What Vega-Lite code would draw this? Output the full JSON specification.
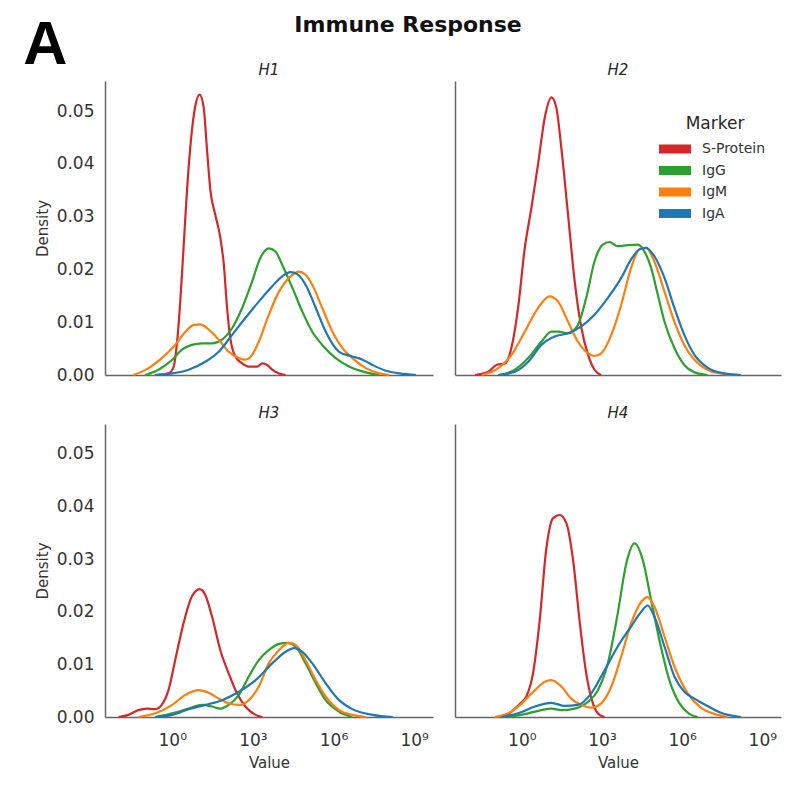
{
  "$schema": "https://vega.github.io/schema/vega-lite/v6.json",
  "background": "white",
  "padding": {"left": 23, "top": 14, "right": 15, "bottom": 10},
  "title": {"text": "A", "anchor": "start", "frame": "bounds", "font": "Liberation Sans", "fontSize": 61, "fontWeight": "bold", "color": "#000000", "offset": -63, "dx": -12},
  "data": {"values": [
    {"panel":"H1","marker":"S-Protein","x":-0.63,"density":0},
    {"panel":"H1","marker":"S-Protein","x":-0.14,"density":0.0003},
    {"panel":"H1","marker":"S-Protein","x":0.05,"density":0.0015},
    {"panel":"H1","marker":"S-Protein","x":0.17,"density":0.0057},
    {"panel":"H1","marker":"S-Protein","x":0.30,"density":0.014},
    {"panel":"H1","marker":"S-Protein","x":0.42,"density":0.024},
    {"panel":"H1","marker":"S-Protein","x":0.55,"density":0.035},
    {"panel":"H1","marker":"S-Protein","x":0.67,"density":0.043},
    {"panel":"H1","marker":"S-Protein","x":0.86,"density":0.051},
    {"panel":"H1","marker":"S-Protein","x":1.02,"density":0.0531},
    {"panel":"H1","marker":"S-Protein","x":1.17,"density":0.0507},
    {"panel":"H1","marker":"S-Protein","x":1.29,"density":0.043},
    {"panel":"H1","marker":"S-Protein","x":1.42,"density":0.035},
    {"panel":"H1","marker":"S-Protein","x":1.60,"density":0.0304},
    {"panel":"H1","marker":"S-Protein","x":1.79,"density":0.026},
    {"panel":"H1","marker":"S-Protein","x":1.92,"density":0.0209},
    {"panel":"H1","marker":"S-Protein","x":2.04,"density":0.0127},
    {"panel":"H1","marker":"S-Protein","x":2.16,"density":0.007},
    {"panel":"H1","marker":"S-Protein","x":2.35,"density":0.0035},
    {"panel":"H1","marker":"S-Protein","x":2.60,"density":0.0022},
    {"panel":"H1","marker":"S-Protein","x":2.85,"density":0.0016},
    {"panel":"H1","marker":"S-Protein","x":3.16,"density":0.0016},
    {"panel":"H1","marker":"S-Protein","x":3.35,"density":0.0022},
    {"panel":"H1","marker":"S-Protein","x":3.53,"density":0.0019},
    {"panel":"H1","marker":"S-Protein","x":3.72,"density":0.001},
    {"panel":"H1","marker":"S-Protein","x":3.97,"density":0.0003},
    {"panel":"H1","marker":"S-Protein","x":4.22,"density":0},
    {"panel":"H1","marker":"IgG","x":-1.0,"density":0},
    {"panel":"H1","marker":"IgG","x":-0.51,"density":0.001},
    {"panel":"H1","marker":"IgG","x":0,"density":0.0029},
    {"panel":"H1","marker":"IgG","x":0.36,"density":0.0048},
    {"panel":"H1","marker":"IgG","x":0.73,"density":0.0057},
    {"panel":"H1","marker":"IgG","x":1.11,"density":0.006},
    {"panel":"H1","marker":"IgG","x":1.48,"density":0.006},
    {"panel":"H1","marker":"IgG","x":1.85,"density":0.0067},
    {"panel":"H1","marker":"IgG","x":2.23,"density":0.0089},
    {"panel":"H1","marker":"IgG","x":2.60,"density":0.0127},
    {"panel":"H1","marker":"IgG","x":2.97,"density":0.0177},
    {"panel":"H1","marker":"IgG","x":3.28,"density":0.0222},
    {"panel":"H1","marker":"IgG","x":3.59,"density":0.024},
    {"panel":"H1","marker":"IgG","x":3.84,"density":0.0234},
    {"panel":"H1","marker":"IgG","x":4.09,"density":0.0209},
    {"panel":"H1","marker":"IgG","x":4.47,"density":0.0165},
    {"panel":"H1","marker":"IgG","x":4.84,"density":0.012},
    {"panel":"H1","marker":"IgG","x":5.21,"density":0.0082},
    {"panel":"H1","marker":"IgG","x":5.58,"density":0.0057},
    {"panel":"H1","marker":"IgG","x":6.08,"density":0.0032},
    {"panel":"H1","marker":"IgG","x":6.58,"density":0.0016},
    {"panel":"H1","marker":"IgG","x":7.20,"density":0.0005},
    {"panel":"H1","marker":"IgG","x":7.70,"density":0},
    {"panel":"H1","marker":"IgM","x":-1.44,"density":0},
    {"panel":"H1","marker":"IgM","x":-0.88,"density":0.0013},
    {"panel":"H1","marker":"IgM","x":-0.39,"density":0.0032},
    {"panel":"H1","marker":"IgM","x":0.11,"density":0.0057},
    {"panel":"H1","marker":"IgM","x":0.49,"density":0.0082},
    {"panel":"H1","marker":"IgM","x":0.80,"density":0.0095},
    {"panel":"H1","marker":"IgM","x":1.04,"density":0.0096},
    {"panel":"H1","marker":"IgM","x":1.36,"density":0.0086},
    {"panel":"H1","marker":"IgM","x":1.73,"density":0.0067},
    {"panel":"H1","marker":"IgM","x":2.10,"density":0.0044},
    {"panel":"H1","marker":"IgM","x":2.48,"density":0.0032},
    {"panel":"H1","marker":"IgM","x":2.72,"density":0.0029},
    {"panel":"H1","marker":"IgM","x":2.97,"density":0.0038},
    {"panel":"H1","marker":"IgM","x":3.22,"density":0.0063},
    {"panel":"H1","marker":"IgM","x":3.59,"density":0.0114},
    {"panel":"H1","marker":"IgM","x":3.97,"density":0.0158},
    {"panel":"H1","marker":"IgM","x":4.34,"density":0.0184},
    {"panel":"H1","marker":"IgM","x":4.71,"density":0.0196},
    {"panel":"H1","marker":"IgM","x":4.96,"density":0.019},
    {"panel":"H1","marker":"IgM","x":5.21,"density":0.0171},
    {"panel":"H1","marker":"IgM","x":5.58,"density":0.0127},
    {"panel":"H1","marker":"IgM","x":5.96,"density":0.0082},
    {"panel":"H1","marker":"IgM","x":6.33,"density":0.0051},
    {"panel":"H1","marker":"IgM","x":6.70,"density":0.0032},
    {"panel":"H1","marker":"IgM","x":7.20,"density":0.0013},
    {"panel":"H1","marker":"IgM","x":7.70,"density":0.0003},
    {"panel":"H1","marker":"IgM","x":8.07,"density":0},
    {"panel":"H1","marker":"IgA","x":-0.63,"density":0},
    {"panel":"H1","marker":"IgA","x":0,"density":0.0003},
    {"panel":"H1","marker":"IgA","x":0.61,"density":0.001},
    {"panel":"H1","marker":"IgA","x":1.23,"density":0.0025},
    {"panel":"H1","marker":"IgA","x":1.73,"density":0.0044},
    {"panel":"H1","marker":"IgA","x":2.23,"density":0.0076},
    {"panel":"H1","marker":"IgA","x":2.72,"density":0.0108},
    {"panel":"H1","marker":"IgA","x":3.22,"density":0.0139},
    {"panel":"H1","marker":"IgA","x":3.72,"density":0.0168},
    {"panel":"H1","marker":"IgA","x":4.09,"density":0.0187},
    {"panel":"H1","marker":"IgA","x":4.40,"density":0.0195},
    {"panel":"H1","marker":"IgA","x":4.65,"density":0.0191},
    {"panel":"H1","marker":"IgA","x":4.96,"density":0.0171},
    {"panel":"H1","marker":"IgA","x":5.34,"density":0.0127},
    {"panel":"H1","marker":"IgA","x":5.71,"density":0.0082},
    {"panel":"H1","marker":"IgA","x":6.21,"density":0.0044},
    {"panel":"H1","marker":"IgA","x":6.70,"density":0.0035},
    {"panel":"H1","marker":"IgA","x":7.08,"density":0.0029},
    {"panel":"H1","marker":"IgA","x":7.45,"density":0.0019},
    {"panel":"H1","marker":"IgA","x":7.95,"density":0.0008},
    {"panel":"H1","marker":"IgA","x":8.45,"density":0.0003},
    {"panel":"H1","marker":"IgA","x":9.07,"density":0},
    {"panel":"H2","marker":"S-Protein","x":-1.75,"density":0},
    {"panel":"H2","marker":"S-Protein","x":-1.26,"density":0.0006},
    {"panel":"H2","marker":"S-Protein","x":-0.95,"density":0.0019},
    {"panel":"H2","marker":"S-Protein","x":-0.63,"density":0.0022},
    {"panel":"H2","marker":"S-Protein","x":-0.39,"density":0.0051},
    {"panel":"H2","marker":"S-Protein","x":-0.14,"density":0.0127},
    {"panel":"H2","marker":"S-Protein","x":0.11,"density":0.024},
    {"panel":"H2","marker":"S-Protein","x":0.36,"density":0.0317},
    {"panel":"H2","marker":"S-Protein","x":0.61,"density":0.040},
    {"panel":"H2","marker":"S-Protein","x":0.86,"density":0.0488},
    {"panel":"H2","marker":"S-Protein","x":1.11,"density":0.0526},
    {"panel":"H2","marker":"S-Protein","x":1.29,"density":0.0507},
    {"panel":"H2","marker":"S-Protein","x":1.48,"density":0.043},
    {"panel":"H2","marker":"S-Protein","x":1.73,"density":0.0304},
    {"panel":"H2","marker":"S-Protein","x":1.98,"density":0.0177},
    {"panel":"H2","marker":"S-Protein","x":2.23,"density":0.0089},
    {"panel":"H2","marker":"S-Protein","x":2.48,"density":0.0038},
    {"panel":"H2","marker":"S-Protein","x":2.72,"density":0.001},
    {"panel":"H2","marker":"S-Protein","x":2.97,"density":0},
    {"panel":"H2","marker":"IgG","x":-0.88,"density":0},
    {"panel":"H2","marker":"IgG","x":-0.26,"density":0.001},
    {"panel":"H2","marker":"IgG","x":0.24,"density":0.0032},
    {"panel":"H2","marker":"IgG","x":0.73,"density":0.0063},
    {"panel":"H2","marker":"IgG","x":1.11,"density":0.0082},
    {"panel":"H2","marker":"IgG","x":1.36,"density":0.0082},
    {"panel":"H2","marker":"IgG","x":1.73,"density":0.0079},
    {"panel":"H2","marker":"IgG","x":2.10,"density":0.0095},
    {"panel":"H2","marker":"IgG","x":2.41,"density":0.0146},
    {"panel":"H2","marker":"IgG","x":2.72,"density":0.0215},
    {"panel":"H2","marker":"IgG","x":3.03,"density":0.0247},
    {"panel":"H2","marker":"IgG","x":3.28,"density":0.0252},
    {"panel":"H2","marker":"IgG","x":3.59,"density":0.0244},
    {"panel":"H2","marker":"IgG","x":3.97,"density":0.0246},
    {"panel":"H2","marker":"IgG","x":4.34,"density":0.0247},
    {"panel":"H2","marker":"IgG","x":4.59,"density":0.0234},
    {"panel":"H2","marker":"IgG","x":4.84,"density":0.0203},
    {"panel":"H2","marker":"IgG","x":5.09,"density":0.0152},
    {"panel":"H2","marker":"IgG","x":5.34,"density":0.0101},
    {"panel":"H2","marker":"IgG","x":5.71,"density":0.0051},
    {"panel":"H2","marker":"IgG","x":6.08,"density":0.0019},
    {"panel":"H2","marker":"IgG","x":6.46,"density":0.0005},
    {"panel":"H2","marker":"IgG","x":6.95,"density":0},
    {"panel":"H2","marker":"IgM","x":-1.5,"density":0},
    {"panel":"H2","marker":"IgM","x":-0.88,"density":0.0013},
    {"panel":"H2","marker":"IgM","x":-0.39,"density":0.0038},
    {"panel":"H2","marker":"IgM","x":0.11,"density":0.0082},
    {"panel":"H2","marker":"IgM","x":0.61,"density":0.0127},
    {"panel":"H2","marker":"IgM","x":1.04,"density":0.0149},
    {"panel":"H2","marker":"IgM","x":1.36,"density":0.0139},
    {"panel":"H2","marker":"IgM","x":1.73,"density":0.0101},
    {"panel":"H2","marker":"IgM","x":2.10,"density":0.0063},
    {"panel":"H2","marker":"IgM","x":2.48,"density":0.0041},
    {"panel":"H2","marker":"IgM","x":2.72,"density":0.0036},
    {"panel":"H2","marker":"IgM","x":2.97,"density":0.0041},
    {"panel":"H2","marker":"IgM","x":3.35,"density":0.0076},
    {"panel":"H2","marker":"IgM","x":3.72,"density":0.0133},
    {"panel":"H2","marker":"IgM","x":4.09,"density":0.0203},
    {"panel":"H2","marker":"IgM","x":4.40,"density":0.0238},
    {"panel":"H2","marker":"IgM","x":4.65,"density":0.0241},
    {"panel":"H2","marker":"IgM","x":4.96,"density":0.0215},
    {"panel":"H2","marker":"IgM","x":5.34,"density":0.0158},
    {"panel":"H2","marker":"IgM","x":5.71,"density":0.0101},
    {"panel":"H2","marker":"IgM","x":6.08,"density":0.0057},
    {"panel":"H2","marker":"IgM","x":6.46,"density":0.0029},
    {"panel":"H2","marker":"IgM","x":6.95,"density":0.001},
    {"panel":"H2","marker":"IgM","x":7.45,"density":0.0003},
    {"panel":"H2","marker":"IgM","x":8.07,"density":0},
    {"panel":"H2","marker":"IgA","x":-0.88,"density":0},
    {"panel":"H2","marker":"IgA","x":-0.26,"density":0.0006},
    {"panel":"H2","marker":"IgA","x":0.24,"density":0.0025},
    {"panel":"H2","marker":"IgA","x":0.73,"density":0.0057},
    {"panel":"H2","marker":"IgA","x":1.23,"density":0.0073},
    {"panel":"H2","marker":"IgA","x":1.73,"density":0.0079},
    {"panel":"H2","marker":"IgA","x":2.23,"density":0.0092},
    {"panel":"H2","marker":"IgA","x":2.72,"density":0.0114},
    {"panel":"H2","marker":"IgA","x":3.22,"density":0.0146},
    {"panel":"H2","marker":"IgA","x":3.72,"density":0.0184},
    {"panel":"H2","marker":"IgA","x":4.09,"density":0.0219},
    {"panel":"H2","marker":"IgA","x":4.40,"density":0.0238},
    {"panel":"H2","marker":"IgA","x":4.65,"density":0.0241},
    {"panel":"H2","marker":"IgA","x":4.96,"density":0.0225},
    {"panel":"H2","marker":"IgA","x":5.34,"density":0.0184},
    {"panel":"H2","marker":"IgA","x":5.71,"density":0.0127},
    {"panel":"H2","marker":"IgA","x":6.08,"density":0.0076},
    {"panel":"H2","marker":"IgA","x":6.46,"density":0.0038},
    {"panel":"H2","marker":"IgA","x":6.95,"density":0.0014},
    {"panel":"H2","marker":"IgA","x":7.57,"density":0.0003},
    {"panel":"H2","marker":"IgA","x":8.2,"density":0},
    {"panel":"H3","marker":"S-Protein","x":-2.0,"density":0},
    {"panel":"H3","marker":"S-Protein","x":-1.63,"density":0.0004},
    {"panel":"H3","marker":"S-Protein","x":-1.26,"density":0.0013},
    {"panel":"H3","marker":"S-Protein","x":-0.95,"density":0.0016},
    {"panel":"H3","marker":"S-Protein","x":-0.63,"density":0.0015},
    {"panel":"H3","marker":"S-Protein","x":-0.39,"density":0.0023},
    {"panel":"H3","marker":"S-Protein","x":-0.14,"density":0.0051},
    {"panel":"H3","marker":"S-Protein","x":0.11,"density":0.0108},
    {"panel":"H3","marker":"S-Protein","x":0.42,"density":0.0178},
    {"panel":"H3","marker":"S-Protein","x":0.73,"density":0.0229},
    {"panel":"H3","marker":"S-Protein","x":1.02,"density":0.0243},
    {"panel":"H3","marker":"S-Protein","x":1.23,"density":0.0232},
    {"panel":"H3","marker":"S-Protein","x":1.48,"density":0.0191},
    {"panel":"H3","marker":"S-Protein","x":1.79,"density":0.0127},
    {"panel":"H3","marker":"S-Protein","x":2.10,"density":0.0083},
    {"panel":"H3","marker":"S-Protein","x":2.41,"density":0.0045},
    {"panel":"H3","marker":"S-Protein","x":2.72,"density":0.002},
    {"panel":"H3","marker":"S-Protein","x":3.10,"density":0.0004},
    {"panel":"H3","marker":"S-Protein","x":3.35,"density":0},
    {"panel":"H3","marker":"IgG","x":-0.63,"density":0},
    {"panel":"H3","marker":"IgG","x":0,"density":0.0007},
    {"panel":"H3","marker":"IgG","x":0.61,"density":0.0016},
    {"panel":"H3","marker":"IgG","x":1.11,"density":0.0023},
    {"panel":"H3","marker":"IgG","x":1.48,"density":0.002},
    {"panel":"H3","marker":"IgG","x":1.79,"density":0.0016},
    {"panel":"H3","marker":"IgG","x":2.10,"density":0.0023},
    {"panel":"H3","marker":"IgG","x":2.48,"density":0.0042},
    {"panel":"H3","marker":"IgG","x":2.85,"density":0.0077},
    {"panel":"H3","marker":"IgG","x":3.22,"density":0.0108},
    {"panel":"H3","marker":"IgG","x":3.59,"density":0.0127},
    {"panel":"H3","marker":"IgG","x":3.97,"density":0.0139},
    {"panel":"H3","marker":"IgG","x":4.28,"density":0.0141},
    {"panel":"H3","marker":"IgG","x":4.59,"density":0.0134},
    {"panel":"H3","marker":"IgG","x":4.96,"density":0.0102},
    {"panel":"H3","marker":"IgG","x":5.34,"density":0.0064},
    {"panel":"H3","marker":"IgG","x":5.71,"density":0.0032},
    {"panel":"H3","marker":"IgG","x":6.21,"density":0.001},
    {"panel":"H3","marker":"IgG","x":6.70,"density":0},
    {"panel":"H3","marker":"IgM","x":-1.26,"density":0},
    {"panel":"H3","marker":"IgM","x":-0.63,"density":0.0007},
    {"panel":"H3","marker":"IgM","x":0,"density":0.0023},
    {"panel":"H3","marker":"IgM","x":0.49,"density":0.0042},
    {"panel":"H3","marker":"IgM","x":0.98,"density":0.0051},
    {"panel":"H3","marker":"IgM","x":1.36,"density":0.0046},
    {"panel":"H3","marker":"IgM","x":1.73,"density":0.0035},
    {"panel":"H3","marker":"IgM","x":2.10,"density":0.0026},
    {"panel":"H3","marker":"IgM","x":2.48,"density":0.0023},
    {"panel":"H3","marker":"IgM","x":2.85,"density":0.0032},
    {"panel":"H3","marker":"IgM","x":3.22,"density":0.0058},
    {"panel":"H3","marker":"IgM","x":3.59,"density":0.0102},
    {"panel":"H3","marker":"IgM","x":3.97,"density":0.0127},
    {"panel":"H3","marker":"IgM","x":4.34,"density":0.0141},
    {"panel":"H3","marker":"IgM","x":4.59,"density":0.0137},
    {"panel":"H3","marker":"IgM","x":4.96,"density":0.0108},
    {"panel":"H3","marker":"IgM","x":5.34,"density":0.007},
    {"panel":"H3","marker":"IgM","x":5.71,"density":0.0039},
    {"panel":"H3","marker":"IgM","x":6.21,"density":0.0013},
    {"panel":"H3","marker":"IgM","x":6.70,"density":0.0004},
    {"panel":"H3","marker":"IgM","x":7.2,"density":0},
    {"panel":"H3","marker":"IgA","x":-0.63,"density":0},
    {"panel":"H3","marker":"IgA","x":0,"density":0.0004},
    {"panel":"H3","marker":"IgA","x":0.61,"density":0.0015},
    {"panel":"H3","marker":"IgA","x":1.23,"density":0.0023},
    {"panel":"H3","marker":"IgA","x":1.85,"density":0.0032},
    {"panel":"H3","marker":"IgA","x":2.48,"density":0.0048},
    {"panel":"H3","marker":"IgA","x":3.10,"density":0.007},
    {"panel":"H3","marker":"IgA","x":3.72,"density":0.0102},
    {"panel":"H3","marker":"IgA","x":4.22,"density":0.0124},
    {"panel":"H3","marker":"IgA","x":4.53,"density":0.0131},
    {"panel":"H3","marker":"IgA","x":4.84,"density":0.0124},
    {"panel":"H3","marker":"IgA","x":5.21,"density":0.0102},
    {"panel":"H3","marker":"IgA","x":5.71,"density":0.0064},
    {"panel":"H3","marker":"IgA","x":6.21,"density":0.0032},
    {"panel":"H3","marker":"IgA","x":6.70,"density":0.0015},
    {"panel":"H3","marker":"IgA","x":7.45,"density":0.0004},
    {"panel":"H3","marker":"IgA","x":8.2,"density":0},
    {"panel":"H4","marker":"S-Protein","x":-0.63,"density":0},
    {"panel":"H4","marker":"S-Protein","x":-0.39,"density":0.001},
    {"panel":"H4","marker":"S-Protein","x":-0.07,"density":0.0025},
    {"panel":"H4","marker":"S-Protein","x":0.17,"density":0.0039},
    {"panel":"H4","marker":"S-Protein","x":0.42,"density":0.0083},
    {"panel":"H4","marker":"S-Protein","x":0.67,"density":0.0184},
    {"panel":"H4","marker":"S-Protein","x":0.91,"density":0.0317},
    {"panel":"H4","marker":"S-Protein","x":1.17,"density":0.0378},
    {"panel":"H4","marker":"S-Protein","x":1.42,"density":0.0384},
    {"panel":"H4","marker":"S-Protein","x":1.67,"density":0.0368},
    {"panel":"H4","marker":"S-Protein","x":1.92,"density":0.0298},
    {"panel":"H4","marker":"S-Protein","x":2.16,"density":0.0184},
    {"panel":"H4","marker":"S-Protein","x":2.41,"density":0.0083},
    {"panel":"H4","marker":"S-Protein","x":2.66,"density":0.0026},
    {"panel":"H4","marker":"S-Protein","x":2.91,"density":0.0004},
    {"panel":"H4","marker":"S-Protein","x":3.1,"density":0},
    {"panel":"H4","marker":"IgG","x":-0.51,"density":0},
    {"panel":"H4","marker":"IgG","x":0.24,"density":0.0007},
    {"panel":"H4","marker":"IgG","x":0.73,"density":0.0013},
    {"panel":"H4","marker":"IgG","x":1.11,"density":0.0016},
    {"panel":"H4","marker":"IgG","x":1.48,"density":0.0013},
    {"panel":"H4","marker":"IgG","x":1.98,"density":0.0016},
    {"panel":"H4","marker":"IgG","x":2.48,"density":0.0029},
    {"panel":"H4","marker":"IgG","x":2.85,"density":0.0051},
    {"panel":"H4","marker":"IgG","x":3.22,"density":0.0102},
    {"panel":"H4","marker":"IgG","x":3.59,"density":0.0197},
    {"panel":"H4","marker":"IgG","x":3.91,"density":0.0292},
    {"panel":"H4","marker":"IgG","x":4.22,"density":0.033},
    {"panel":"H4","marker":"IgG","x":4.53,"density":0.0298},
    {"panel":"H4","marker":"IgG","x":4.84,"density":0.0222},
    {"panel":"H4","marker":"IgG","x":5.15,"density":0.0146},
    {"panel":"H4","marker":"IgG","x":5.52,"density":0.007},
    {"panel":"H4","marker":"IgG","x":5.90,"density":0.0026},
    {"panel":"H4","marker":"IgG","x":6.27,"density":0.0006},
    {"panel":"H4","marker":"IgG","x":6.58,"density":0},
    {"panel":"H4","marker":"IgM","x":-1.0,"density":0},
    {"panel":"H4","marker":"IgM","x":-0.51,"density":0.0007},
    {"panel":"H4","marker":"IgM","x":0,"density":0.0026},
    {"panel":"H4","marker":"IgM","x":0.49,"density":0.0051},
    {"panel":"H4","marker":"IgM","x":0.86,"density":0.0067},
    {"panel":"H4","marker":"IgM","x":1.11,"density":0.007},
    {"panel":"H4","marker":"IgM","x":1.48,"density":0.0058},
    {"panel":"H4","marker":"IgM","x":1.85,"density":0.0035},
    {"panel":"H4","marker":"IgM","x":2.23,"density":0.0023},
    {"panel":"H4","marker":"IgM","x":2.60,"density":0.0018},
    {"panel":"H4","marker":"IgM","x":2.97,"density":0.0026},
    {"panel":"H4","marker":"IgM","x":3.35,"density":0.0058},
    {"panel":"H4","marker":"IgM","x":3.72,"density":0.0115},
    {"panel":"H4","marker":"IgM","x":4.09,"density":0.0178},
    {"panel":"H4","marker":"IgM","x":4.47,"density":0.0219},
    {"panel":"H4","marker":"IgM","x":4.71,"density":0.0228},
    {"panel":"H4","marker":"IgM","x":4.96,"density":0.021},
    {"panel":"H4","marker":"IgM","x":5.34,"density":0.0153},
    {"panel":"H4","marker":"IgM","x":5.71,"density":0.0096},
    {"panel":"H4","marker":"IgM","x":6.21,"density":0.0045},
    {"panel":"H4","marker":"IgM","x":6.70,"density":0.0018},
    {"panel":"H4","marker":"IgM","x":7.20,"density":0.0006},
    {"panel":"H4","marker":"IgM","x":7.7,"density":0},
    {"panel":"H4","marker":"IgA","x":-0.76,"density":0},
    {"panel":"H4","marker":"IgA","x":-0.14,"density":0.0007},
    {"panel":"H4","marker":"IgA","x":0.49,"density":0.002},
    {"panel":"H4","marker":"IgA","x":1.11,"density":0.0027},
    {"panel":"H4","marker":"IgA","x":1.60,"density":0.0021},
    {"panel":"H4","marker":"IgA","x":2.10,"density":0.0023},
    {"panel":"H4","marker":"IgA","x":2.60,"density":0.0045},
    {"panel":"H4","marker":"IgA","x":3.10,"density":0.0089},
    {"panel":"H4","marker":"IgA","x":3.59,"density":0.0134},
    {"panel":"H4","marker":"IgA","x":4.09,"density":0.0172},
    {"panel":"H4","marker":"IgA","x":4.47,"density":0.02},
    {"panel":"H4","marker":"IgA","x":4.71,"density":0.0212},
    {"panel":"H4","marker":"IgA","x":4.96,"density":0.0191},
    {"panel":"H4","marker":"IgA","x":5.34,"density":0.0134},
    {"panel":"H4","marker":"IgA","x":5.71,"density":0.0077},
    {"panel":"H4","marker":"IgA","x":6.08,"density":0.0048},
    {"panel":"H4","marker":"IgA","x":6.46,"density":0.0035},
    {"panel":"H4","marker":"IgA","x":6.95,"density":0.0021},
    {"panel":"H4","marker":"IgA","x":7.45,"density":0.0008},
    {"panel":"H4","marker":"IgA","x":8.2,"density":0}
  ]},
  "vconcat": [
    {
      "title": {"text": "Immune Response", "anchor": "middle", "font": "DejaVu Sans", "fontSize": 22, "fontWeight": "bold", "color": "#111111", "offset": 26},
      "spacing": 22,
      "resolve": {"legend": {"color": "independent"}},
      "hconcat": [
        {
          "width": 328, "height": 294,
          "title": {"text": "H1", "anchor": "middle", "frame": "group", "font": "DejaVu Sans", "fontSize": 15, "fontStyle": "italic", "fontWeight": "normal", "color": "#262626", "offset": 3},
          "transform": [{"filter": "datum.panel == 'H1'"}],
          "mark": {"type": "line", "interpolate": "monotone", "strokeWidth": 2.2},
          "encoding": {
            "x": {"field": "x", "type": "quantitative", "scale": {"domain": [-2.5, 9.7], "nice": false, "zero": false}, "axis": {"labels": false, "title": null}},
            "y": {"field": "density", "type": "quantitative", "scale": {"domain": [0, 0.0557], "nice": false}, "axis": {"values": [0, 0.01, 0.02, 0.03, 0.04, 0.05], "format": ".2f", "title": "Density"}},
            "color": {"field": "marker", "type": "nominal", "scale": {"domain": ["S-Protein", "IgG", "IgM", "IgA"], "range": ["#d62728", "#2ca02c", "#ff7f0e", "#1f77b4"]}, "legend": null}
          }
        },
        {
          "width": 326, "height": 294,
          "title": {"text": "H2", "anchor": "middle", "frame": "group", "font": "DejaVu Sans", "fontSize": 15, "fontStyle": "italic", "fontWeight": "normal", "color": "#262626", "offset": 3},
          "transform": [{"filter": "datum.panel == 'H2'"}],
          "mark": {"type": "line", "interpolate": "monotone", "strokeWidth": 2.2},
          "encoding": {
            "x": {"field": "x", "type": "quantitative", "scale": {"domain": [-2.5, 9.7], "nice": false, "zero": false}, "axis": {"labels": false, "title": null}},
            "y": {"field": "density", "type": "quantitative", "scale": {"domain": [0, 0.0557], "nice": false}, "axis": {"labels": false, "title": null}},
            "color": {"field": "marker", "type": "nominal", "scale": {"domain": ["S-Protein", "IgG", "IgM", "IgA"], "range": ["#d62728", "#2ca02c", "#ff7f0e", "#1f77b4"]},
              "legend": {"title": "Marker", "orient": "none", "legendX": 210, "legendY": 35, "padding": 0, "titleAnchor": "middle", "titleFont": "DejaVu Sans", "titleFontSize": 17, "titleFontWeight": "normal", "titleColor": "#262626", "titlePadding": 6, "labelFont": "DejaVu Sans", "labelFontSize": 14, "labelColor": "#333333", "labelOffset": 17, "symbolType": "M-1.6,-0.45H1.6V0.45H-1.6Z", "symbolSize": 400, "symbolStrokeWidth": 0, "rowPadding": 4.5,
                "encode": {"symbols": {"update": {"fill": {"scale": "color", "field": "value"}, "fillOpacity": {"value": 1}, "strokeWidth": {"value": 0}}}}}}
          }
        }
      ]
    },
    {
      "spacing": 22,
      "hconcat": [
        {
          "width": 328, "height": 293,
          "title": {"text": "H3", "anchor": "middle", "frame": "group", "font": "DejaVu Sans", "fontSize": 15, "fontStyle": "italic", "fontWeight": "normal", "color": "#262626", "offset": 3},
          "transform": [{"filter": "datum.panel == 'H3'"}],
          "mark": {"type": "line", "interpolate": "monotone", "strokeWidth": 2.2},
          "encoding": {
            "x": {"field": "x", "type": "quantitative", "scale": {"domain": [-2.5, 9.7], "nice": false, "zero": false}, "axis": {"values": [0, 3, 6, 9], "labelExpr": "datum.value == 0 ? '10⁰' : datum.value == 3 ? '10³' : datum.value == 6 ? '10⁶' : '10⁹'", "title": "Value"}},
            "y": {"field": "density", "type": "quantitative", "scale": {"domain": [0, 0.0557], "nice": false}, "axis": {"values": [0, 0.01, 0.02, 0.03, 0.04, 0.05], "format": ".2f", "title": "Density"}},
            "color": {"field": "marker", "type": "nominal", "scale": {"domain": ["S-Protein", "IgG", "IgM", "IgA"], "range": ["#d62728", "#2ca02c", "#ff7f0e", "#1f77b4"]}, "legend": null}
          }
        },
        {
          "width": 326, "height": 293,
          "title": {"text": "H4", "anchor": "middle", "frame": "group", "font": "DejaVu Sans", "fontSize": 15, "fontStyle": "italic", "fontWeight": "normal", "color": "#262626", "offset": 3},
          "transform": [{"filter": "datum.panel == 'H4'"}],
          "mark": {"type": "line", "interpolate": "monotone", "strokeWidth": 2.2},
          "encoding": {
            "x": {"field": "x", "type": "quantitative", "scale": {"domain": [-2.5, 9.7], "nice": false, "zero": false}, "axis": {"values": [0, 3, 6, 9], "labelExpr": "datum.value == 0 ? '10⁰' : datum.value == 3 ? '10³' : datum.value == 6 ? '10⁶' : '10⁹'", "title": "Value"}},
            "y": {"field": "density", "type": "quantitative", "scale": {"domain": [0, 0.0557], "nice": false}, "axis": {"labels": false, "title": null}},
            "color": {"field": "marker", "type": "nominal", "scale": {"domain": ["S-Protein", "IgG", "IgM", "IgA"], "range": ["#d62728", "#2ca02c", "#ff7f0e", "#1f77b4"]}, "legend": null}
          }
        }
      ]
    }
  ],
  "spacing": 23,
  "resolve": {"legend": {"color": "independent"}},
  "config": {
    "font": "DejaVu Sans",
    "view": {"stroke": null},
    "axis": {"grid": false, "ticks": false, "domainColor": "#666666", "domainWidth": 1.5, "labelFont": "DejaVu Sans", "labelFontSize": 17, "labelColor": "#333333", "titleFont": "DejaVu Sans", "titleFontSize": 15, "titleFontWeight": "normal", "titleColor": "#333333"},
    "axisY": {"labelPadding": 11, "titlePadding": 6},
    "axisX": {"labelPadding": 15, "titlePadding": 7}
  }
}
